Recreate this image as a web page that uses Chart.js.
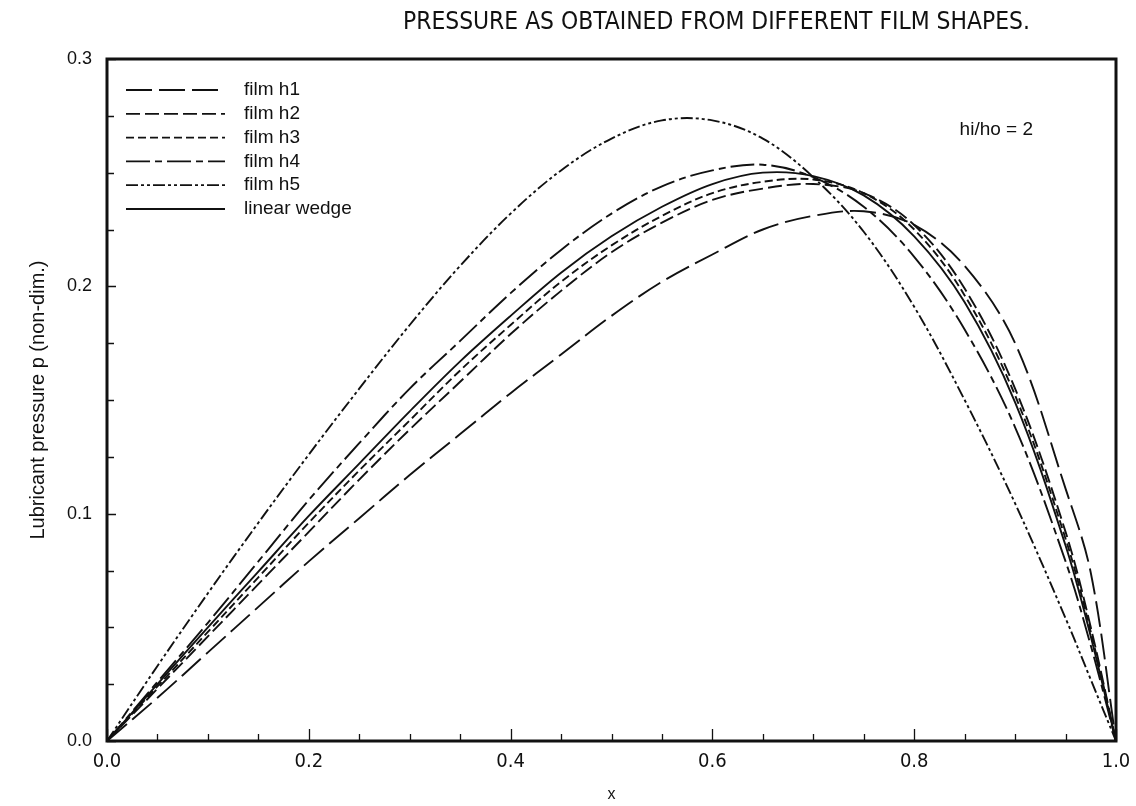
<!DOCTYPE html>
<html>
<head>
<meta charset="utf-8">
<title>Pressure from different film shapes</title>
<script src="https://cdn.jsdelivr.net/npm/chart.js@4.4.1/dist/chart.umd.min.js"></script>
<style>
  html, body { margin: 0; padding: 0; background: #fff; }
  #wrap { width: 1136px; height: 806px; position: relative; }
</style>
</head>
<body>
<div id="wrap"><canvas id="pressure-chart"></canvas></div>
<script>
// x positions along the bearing (non-dim.)
const xs = [0, 0.05, 0.1, 0.15, 0.2, 0.25, 0.3, 0.35, 0.4, 0.45, 0.5,
            0.55, 0.6, 0.65, 0.7, 0.75, 0.8, 0.85, 0.9, 0.95, 0.975, 1.0]

// pressure for each film shape
const filmH1 = [0, 0.019, 0.039, 0.059, 0.079, 0.098, 0.117, 0.135, 0.153, 0.170, 0.187,
                0.202, 0.214, 0.225, 0.231, 0.233, 0.227, 0.209, 0.175, 0.111, 0.074, 0]
const filmH2 = [0, 0.023, 0.046, 0.069, 0.092, 0.115, 0.137, 0.158, 0.179, 0.198, 0.215,
                0.228, 0.238, 0.243, 0.245, 0.241, 0.227, 0.199, 0.155, 0.092, 0.050, 0]
const filmH3 = [0, 0.024, 0.048, 0.072, 0.096, 0.119, 0.141, 0.163, 0.183, 0.202, 0.218,
                0.231, 0.241, 0.246, 0.247, 0.241, 0.225, 0.196, 0.152, 0.089, 0.048, 0]
const filmH4 = [0, 0.026, 0.052, 0.079, 0.106, 0.131, 0.155, 0.176, 0.197, 0.216, 0.232,
                0.244, 0.251, 0.2535, 0.248, 0.235, 0.213, 0.181, 0.138, 0.079, 0.042, 0]
const filmH5 = [0, 0.033, 0.065, 0.096, 0.126, 0.155, 0.183, 0.209, 0.232, 0.251, 0.265,
                0.273, 0.273, 0.265, 0.248, 0.224, 0.191, 0.150, 0.1045, 0.054, 0.027, 0]
const linearWedge = [0, 0.025, 0.050, 0.0745, 0.099, 0.122, 0.145, 0.167, 0.187, 0.206, 0.222,
                     0.235, 0.245, 0.250, 0.2485, 0.240, 0.222, 0.193, 0.149, 0.086, 0.046, 0]

const seriesNames = ['film h1', 'film h2', 'film h3', 'film h4', 'film h5', 'linear wedge']
const seriesValues = [filmH1, filmH2, filmH3, filmH4, filmH5, linearWedge]
const seriesDash = [[26, 7], [14, 5], [8, 4], [24, 5, 7, 5], [12, 3, 3, 3, 3, 3], []]

const xTickLabels = ['0.0', '0.2', '0.4', '0.6', '0.8', '1.0']
const yTickLabels = ['0.0', '0.1', '0.2', '0.3']

const titleText = 'PRESSURE AS OBTAINED FROM DIFFERENT FILM SHAPES.'
const ratioText = 'hi/ho = 2'

const INK = '#111'
const SANS = '"Liberation Sans", Arial, Helvetica, sans-serif'
const NARROW = '"Liberation Sans Narrow", "DejaVu Sans Condensed", "Liberation Sans", sans-serif'

const isStep = (v, step) => Math.abs(v / step - Math.round(v / step)) < 1e-6

Chart.defaults.font.family = SANS
Chart.defaults.color = INK

const datasets = seriesNames.map((name, i) => ({
  label: name,
  data: xs.map((x, j) => ({ x, y: seriesValues[i][j] })),
  borderColor: INK,
  borderWidth: 1.9,
  borderDash: seriesDash[i],
  pointRadius: 0,
  fill: false,
  tension: 0.35
}))

// frame, inward tick marks
const frameTicks = {
  id: 'frameTicks',
  afterDatasetsDraw(chart) {
    const { ctx, chartArea: a, scales: { x, y } } = chart
    ctx.save()
    ctx.strokeStyle = INK
    ctx.lineWidth = 1.3
    ctx.beginPath()
    x.ticks.forEach(t => {
      const px = Math.round(x.getPixelForValue(t.value)) + 0.5
      const len = isStep(t.value, 0.2) ? 12 : 7
      ctx.moveTo(px, a.bottom)
      ctx.lineTo(px, a.bottom - len)
    })
    y.ticks.forEach(t => {
      const py = Math.round(y.getPixelForValue(t.value)) + 0.5
      const len = isStep(t.value, 0.1) ? 9 : 7
      ctx.moveTo(a.left, py)
      ctx.lineTo(a.left + len, py)
    })
    ctx.stroke()
    ctx.lineWidth = 3
    ctx.strokeRect(a.left, a.top, a.width, a.height)
    ctx.restore()
  }
}

// title, legend box and hi/ho note
const annotations = {
  id: 'annotations',
  afterDraw(chart) {
    const { ctx, chartArea: a, scales: { x, y } } = chart
    ctx.save()
    ctx.fillStyle = INK
    ctx.strokeStyle = INK

    // condensed title
    ctx.font = '25px ' + NARROW
    ctx.textAlign = 'center'
    ctx.textBaseline = 'middle'
    const w = ctx.measureText(titleText).width
    ctx.save()
    ctx.translate(a.left + 0.604 * a.width, 22)
    ctx.scale(627 / w, 1)
    ctx.fillText(titleText, 0, 0)
    ctx.restore()

    // legend
    ctx.font = '19px ' + SANS
    ctx.textAlign = 'left'
    chart.data.datasets.forEach((ds, i) => {
      const ly = a.top + 31 + i * 23.8
      ctx.lineWidth = 1.8
      ctx.setLineDash(ds.borderDash)
      ctx.beginPath()
      ctx.moveTo(a.left + 19, ly)
      ctx.lineTo(a.left + 118, ly)
      ctx.stroke()
      ctx.setLineDash([])
      ctx.fillText(ds.label, a.left + 137, ly)
    })

    ctx.fillText(ratioText, x.getPixelForValue(0.845), y.getPixelForValue(0.269))
    ctx.restore()
  }
}

const ctx = document.getElementById('pressure-chart').getContext('2d')

const pressureChart = new Chart(ctx, {
  type: 'line',
  data: { datasets },
  options: {
    responsive: true,
    maintainAspectRatio: false,
    animation: false,
    layout: { padding: { top: 59, right: 0, bottom: 0, left: 0 } },
    plugins: {
      legend: { display: false },
      tooltip: { enabled: false }
    },
    scales: {
      x: {
        type: 'linear',
        min: 0,
        max: 1,
        grid: { display: false, drawTicks: false },
        border: { display: false },
        ticks: {
          stepSize: 0.05,
          autoSkip: false,
          maxRotation: 0,
          padding: 9,
          font: { size: 20, family: NARROW },
          callback: v => isStep(v, 0.2) ? xTickLabels[Math.round(v / 0.2)] : ''
        },
        title: {
          display: true,
          text: 'x',
          font: { size: 16 },
          padding: { top: 0, bottom: 2 }
        },
        afterFit: scale => {
          scale.height = 65
          scale.paddingLeft = 0
          scale.paddingRight = 20
        }
      },
      y: {
        min: 0,
        max: 0.3,
        grid: { display: false, drawTicks: false },
        border: { display: false },
        ticks: {
          stepSize: 0.025,
          autoSkip: false,
          padding: 15,
          font: { size: 18 },
          callback: v => isStep(v, 0.1) ? yTickLabels[Math.round(v / 0.1)] : ''
        },
        title: {
          display: true,
          text: 'Lubricant pressure p (non-dim.)',
          font: { size: 20 },
          padding: { top: 26, bottom: 0 }
        },
        afterFit: scale => {
          scale.width = 107
          scale.paddingTop = 0
          scale.paddingBottom = 0
        }
      }
    }
  },
  plugins: [frameTicks, annotations]
})
</script>
</body>
</html>
